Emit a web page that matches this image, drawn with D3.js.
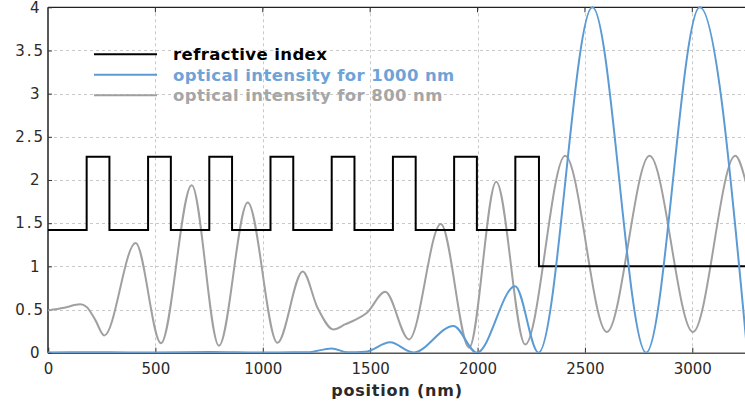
<!DOCTYPE html>
<html>
<head>
<meta charset="utf-8">
<script src="https://cdn.jsdelivr.net/npm/d3@7"></script>
<style>
  html, body { margin: 0; padding: 0; background: #fff; }
  svg { display: block; font-family: "DejaVu Sans", Verdana, sans-serif; }
</style>
</head>
<body>
<svg id="chart" width="745" height="409"></svg>
<script>
// Axis ticks
const xTicks = [0, 500, 1000, 1500, 2000, 2500, 3000];
const yTicks = [0, 0.5, 1, 1.5, 2, 2.5, 3, 3.5, 4];
const yTickLabels = ["0", "0.5", "1", "1.5", "2", "2.5", "3", "3.5", "4"];

// Layer stack: boundaries (nm) and refractive index of each layer
const layerEdges = [0, 180, 286, 466, 572, 751, 857, 1036, 1142, 1321, 1427, 1606, 1712, 1891, 1997, 2176, 2286, 3250];
const layerIndex = [1.42, 2.27, 1.42, 2.27, 1.42, 2.27, 1.42, 2.27, 1.42, 2.27, 1.42, 2.27, 1.42, 2.27, 1.42, 2.27, 1.0];

// Optical intensity for 1000 nm: [position nm, intensity]
const intensity1000 = [
  [0, 0.003], [250, 0.005], [500, 0.002], [760, 0.008], [1000, 0.002], [1150, 0.005],
  [1205, 0.004], [1321, 0.05], [1395, 0.004], [1477, 0.01], [1593, 0.12], [1701, 0.002],
  [1888, 0.31], [1997, 0.0], [2175, 0.77], [2284, 0.0], [2535, 4.0], [2785, 0.0],
  [3035, 4.0], [3250, 0.16]
];

// Optical intensity for 800 nm: [position nm, intensity]
const intensity800 = [
  [0, 0.49], [75, 0.52], [150, 0.56], [180, 0.53], [220, 0.38], [262, 0.20], [408, 1.27],
  [526, 0.11], [669, 1.94], [796, 0.08], [930, 1.74], [1068, 0.115], [1186, 0.94],
  [1255, 0.52], [1329, 0.27], [1385, 0.33], [1430, 0.38], [1484, 0.46], [1570, 0.705],
  [1681, 0.154], [1829, 1.49], [1961, 0.058], [2087, 1.98], [2222, 0.096], [2408, 2.28],
  [2602, 0.24], [2801, 2.28], [3003, 0.24], [3200, 2.28], [3250, 1.97]
];

const seriesNames = ["refractive index", "optical intensity for 1000 nm", "optical intensity for 800 nm"];
const seriesColors = ["#000000", "#5b9bd5", "#a0a0a0"];
const legendTextColors = ["#000000", "#6ea3d8", "#a6a6a6"];

const svg = d3.select("#chart");
const margin = { left: 48, right: -1, top: 7, bottom: 56 };
const W = 745, H = 409;

const x = d3.scaleLinear().domain([0, 3250]).range([margin.left, W - margin.right]);
const y = d3.scaleLinear().domain([0, 4]).range([H - margin.bottom - 0.3, margin.top + 0.3]);

svg.append("defs").append("clipPath").attr("id", "plotClip")
  .append("rect")
  .attr("x", x(0)).attr("y", y(4) - 2)
  .attr("width", x(3250) - x(0)).attr("height", y(0) - y(4) + 2);

// Dashed grid
const grid = svg.append("g").attr("stroke", "#c9c9c9").attr("stroke-dasharray", "3,3").attr("stroke-width", 1);
grid.selectAll("line.h").data(yTicks.slice(1, -1)).join("line")
  .attr("x1", x(0)).attr("x2", x(3250))
  .attr("y1", d => Math.round(y(d)) + 0.5).attr("y2", d => Math.round(y(d)) + 0.5);
grid.selectAll("line.v").data(xTicks.slice(1)).join("line")
  .attr("y1", y(4)).attr("y2", y(0))
  .attr("x1", d => Math.round(x(d)) + 0.5).attr("x2", d => Math.round(x(d)) + 0.5);

// Frame
svg.append("line").attr("x1", x(0)).attr("x2", W).attr("y1", y(4)).attr("y2", y(4))
  .attr("stroke", "#222").attr("stroke-width", 1.2);
svg.append("line").attr("x1", x(0)).attr("x2", x(0)).attr("y1", y(4)).attr("y2", y(0))
  .attr("stroke", "#222").attr("stroke-width", 1.5);

// Axes
const xAxis = d3.axisBottom(x).tickValues(xTicks).tickSize(-5).tickPadding(11).tickFormat(d3.format("d"));
const gx = svg.append("g").attr("transform", `translate(0,${y(0)})`).call(xAxis);
gx.select(".domain").attr("stroke", "#555").attr("stroke-width", 1.6);
gx.selectAll(".tick line").attr("stroke", "#333");
gx.selectAll(".tick text").attr("font-size", 15).attr("fill", "#2a2a2a")
  .attr("font-family", "DejaVu Sans, sans-serif");

// Top border ticks
svg.append("g").selectAll("line").data(xTicks.slice(1)).join("line")
  .attr("x1", d => x(d)).attr("x2", d => x(d)).attr("y1", y(4)).attr("y2", y(4) + 5)
  .attr("stroke", "#333");

const yAxis = d3.axisLeft(y).tickValues(yTicks).tickSize(-4).tickPadding(0)
  .tickFormat((d, i) => yTickLabels[i]);
const gy = svg.append("g").attr("transform", `translate(${x(0)},0)`).call(yAxis);
gy.select(".domain").remove();
gy.selectAll(".tick line").attr("stroke", "#333");
gy.selectAll(".tick text")
  .attr("font-size", 15).attr("fill", "#2a2a2a").attr("font-family", "DejaVu Sans, sans-serif")
  .attr("x", (d, i) => yTickLabels[i].includes(".") ? -3 : -8.5)
  .attr("letter-spacing", (d, i) => yTickLabels[i].includes(".") ? "2px" : "0px");

// Axis title
svg.append("text")
  .attr("x", (x(0) + x(3250)) / 2).attr("y", 396)
  .attr("text-anchor", "middle").attr("font-size", 16).attr("font-weight", "bold")
  .attr("letter-spacing", "0.8px").attr("fill", "#2a2a2a")
  .text("position (nm)");

const plot = svg.append("g").attr("clip-path", "url(#plotClip)");

const curveLine = d3.line().x(d => x(d[0])).y(d => y(d[1])).curve(d3.curveMonotoneX);

// 800 nm intensity (drawn underneath)
plot.append("path").datum(intensity800)
  .attr("d", curveLine).attr("fill", "none")
  .attr("stroke", seriesColors[2]).attr("stroke-width", 2);

// Refractive index profile
const indexPts = layerIndex.map((n, i) => [layerEdges[i], n]).concat([[layerEdges[layerEdges.length - 1], layerIndex[layerIndex.length - 1]]]);
plot.append("path").datum(indexPts)
  .attr("d", d3.line().x(d => x(d[0])).y(d => y(d[1])).curve(d3.curveStepAfter))
  .attr("fill", "none").attr("stroke", seriesColors[0]).attr("stroke-width", 2);

// 1000 nm intensity
plot.append("path").datum(intensity1000)
  .attr("d", curveLine).attr("fill", "none")
  .attr("stroke", seriesColors[1]).attr("stroke-width", 2);

// Legend
const legend = svg.append("g");
const legendY = [54.3, 74.8, 95.3];
seriesNames.forEach((name, i) => {
  legend.append("line")
    .attr("x1", 94).attr("x2", 157).attr("y1", legendY[i]).attr("y2", legendY[i])
    .attr("stroke", seriesColors[i]).attr("stroke-width", 2);
  legend.append("text")
    .attr("x", 173).attr("y", legendY[i]).attr("dy", "0.36em")
    .attr("font-size", 16.5).attr("font-weight", "bold").attr("letter-spacing", "0.4px")
    .attr("fill", legendTextColors[i])
    .text(name);
});
</script>
</body>
</html>
